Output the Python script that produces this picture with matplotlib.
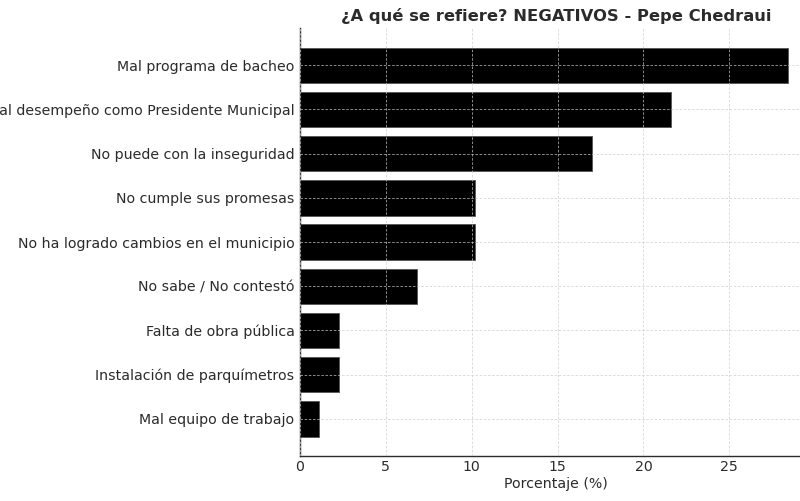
import matplotlib
matplotlib.use("Agg")
import matplotlib.pyplot as plt

plt.rcParams["font.family"] = ["DejaVu Sans"]

categories = [
    "Mal programa de bacheo",
    "Mal desempeño como Presidente Municipal",
    "No puede con la inseguridad",
    "No cumple sus promesas",
    "No ha logrado cambios en el municipio",
    "No sabe / No contestó",
    "Falta de obra pública",
    "Instalación de parquímetros",
    "Mal equipo de trabajo",
]
values = [28.4, 21.6, 17.0, 10.2, 10.2, 6.8, 2.3, 2.3, 1.1]

text_color = "#2b2b2b"

fig = plt.figure(figsize=(8.0, 5.01), dpi=100)
ax = fig.add_axes([0.375, 0.0898, 0.64, 0.854])

ax.barh(categories, values, height=0.8, color="black", edgecolor="#555555", linewidth=0.6)
ax.invert_yaxis()

ax.set_axisbelow(False)
ax.grid(True, linestyle=(0, (3, 2)), color="#cccccc", linewidth=0.6, alpha=0.8)

ax.set_title("¿A qué se refiere? NEGATIVOS - Pepe Chedraui", fontsize=11.8,
             fontweight="bold", color=text_color, pad=5)
ax.set_xlabel("Porcentaje (%)", fontsize=10.2, color=text_color, labelpad=2)

ax.tick_params(axis="both", length=0, labelsize=10.2, labelcolor=text_color)
ax.tick_params(axis="x", pad=3)
ax.tick_params(axis="y", pad=4)

for side in ["top", "right"]:
    ax.spines[side].set_visible(False)
for side in ["left", "bottom"]:
    ax.spines[side].set_color(text_color)
    ax.spines[side].set_linewidth(1.0)

fig.savefig("out.png", dpi=100)
